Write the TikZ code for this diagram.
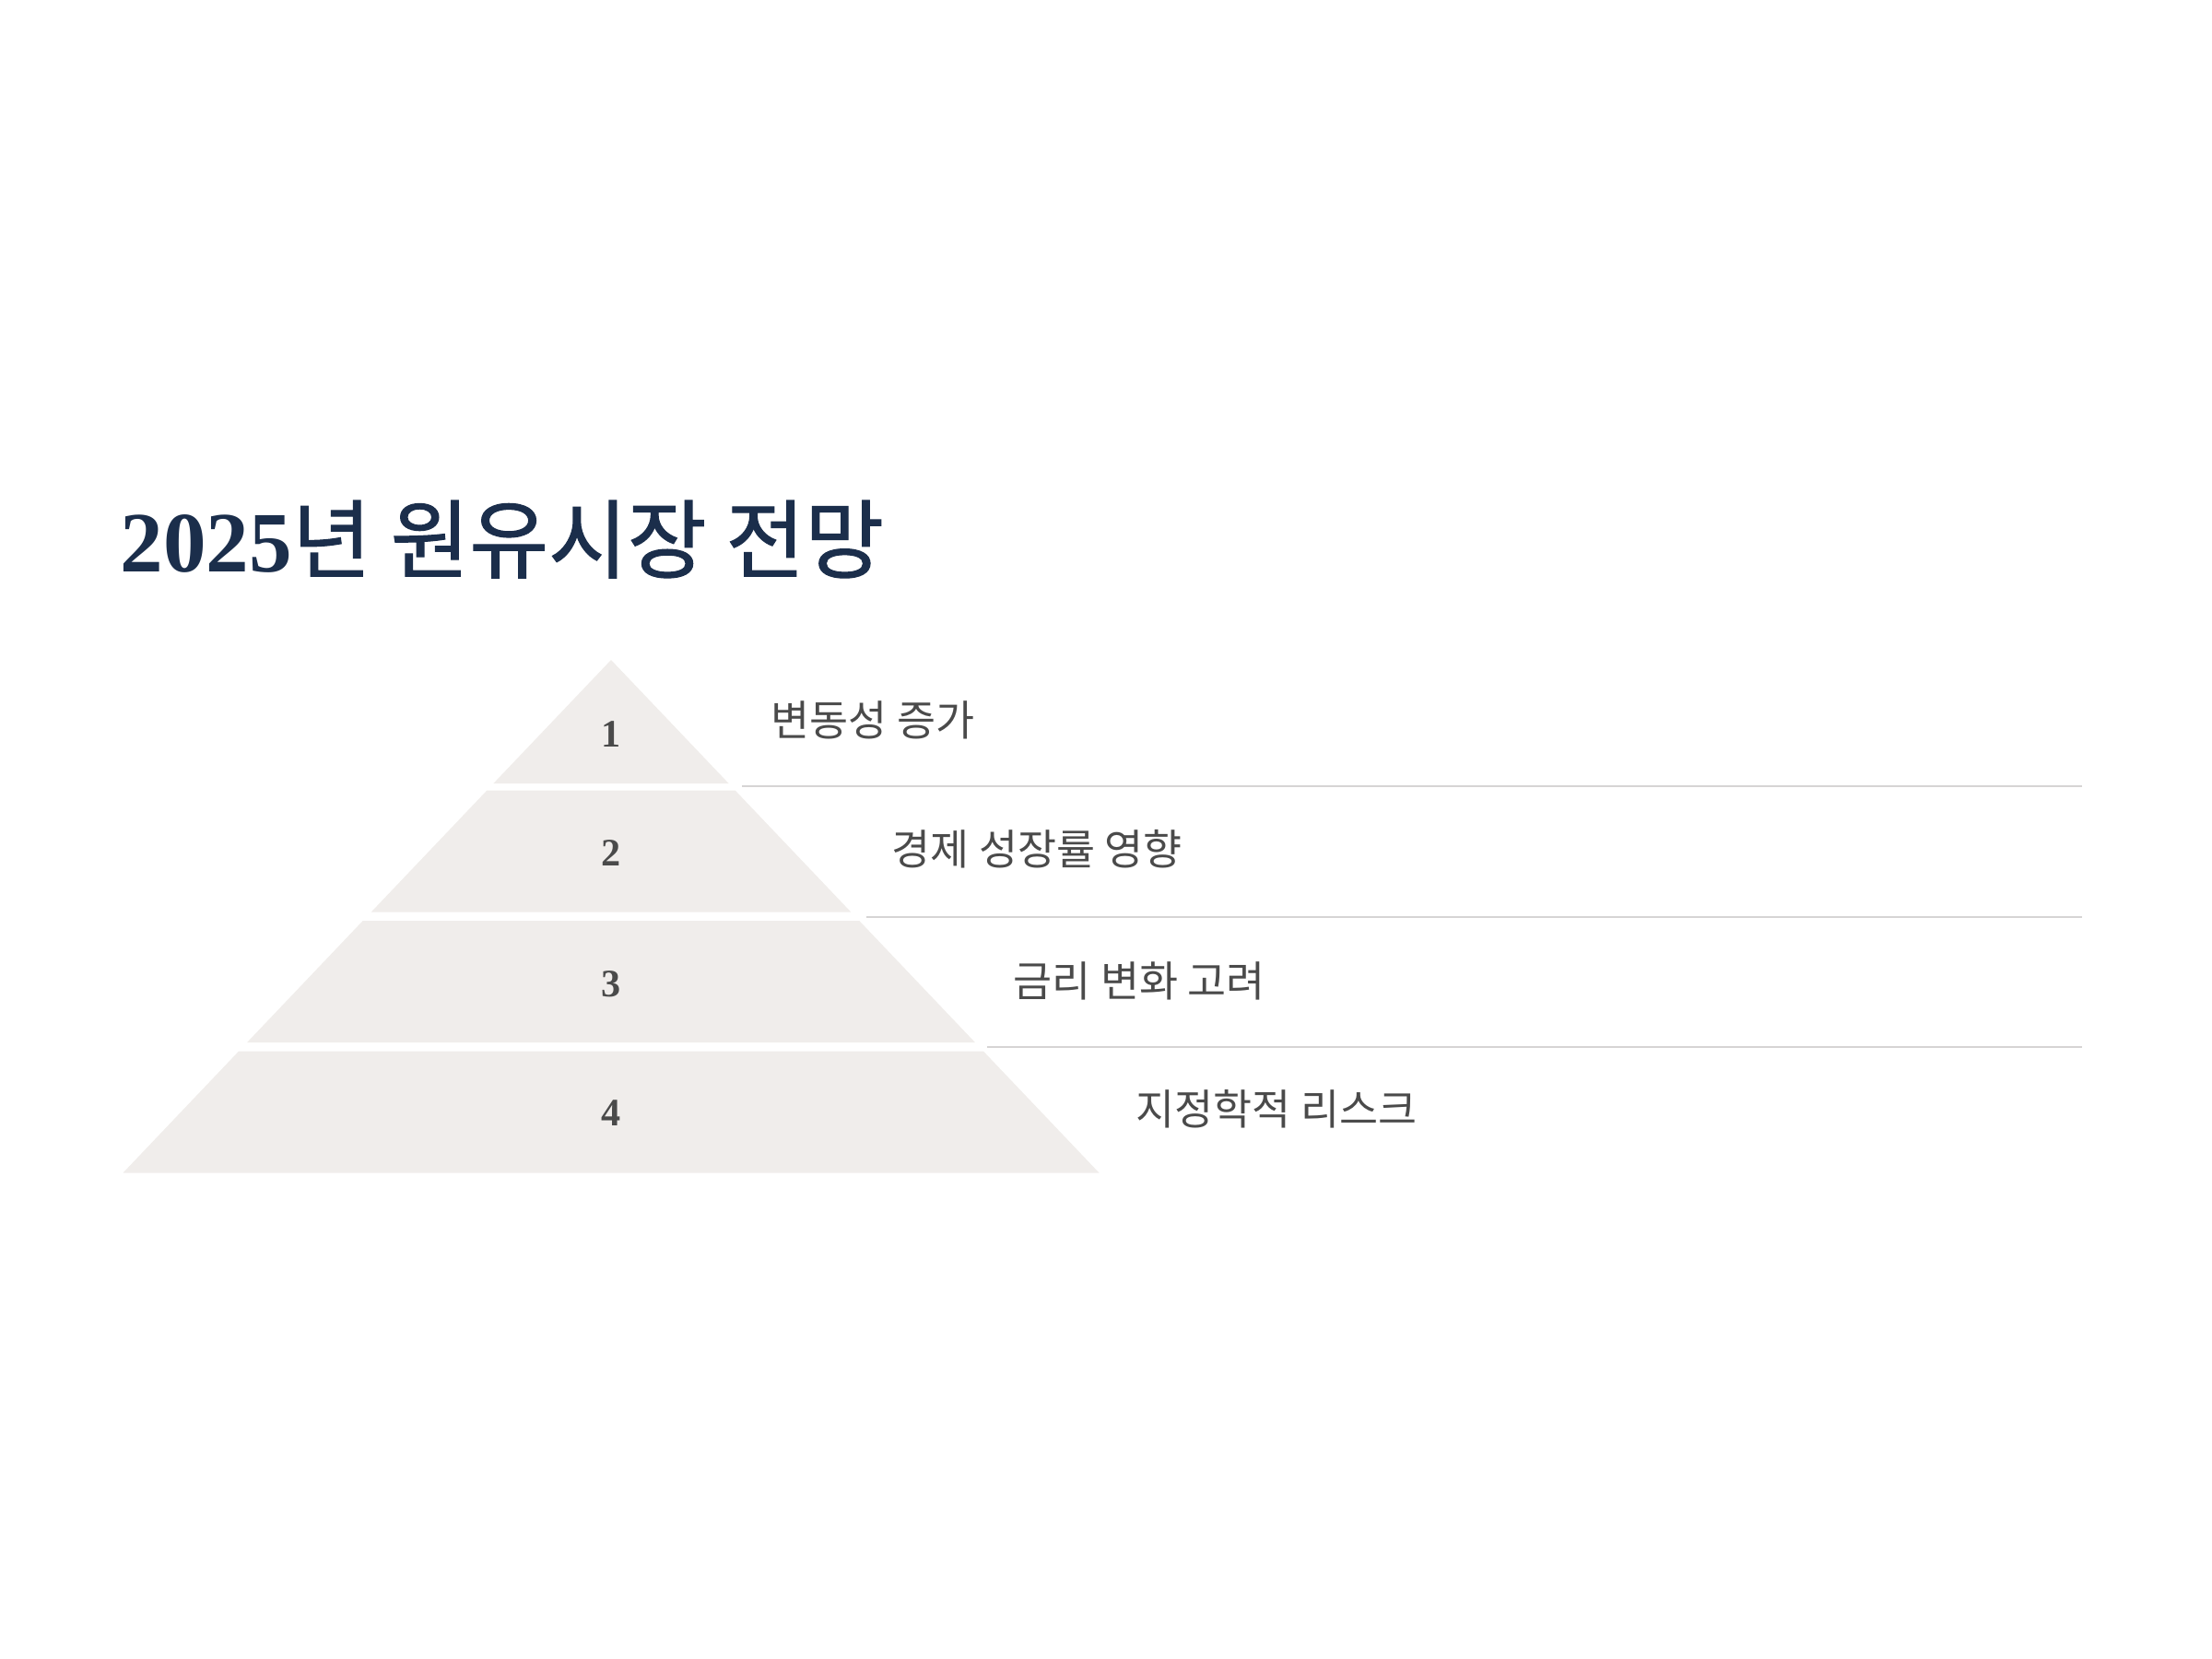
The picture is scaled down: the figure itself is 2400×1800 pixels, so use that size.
\documentclass[tikz,border=0pt]{standalone}
\usepackage{fontspec}
\setmainfont{Liberation Serif}
\newfontfamily\krfont{Noto Sans CJK KR}
\newfontfamily\krtitle{Noto Sans CJK KR}[FakeBold=1.2]
\usetikzlibrary{positioning}

\definecolor{navy}{HTML}{1B2E4B}
\definecolor{stone}{HTML}{F0EDEB}
\definecolor{ink}{HTML}{4A4A4A}
\definecolor{rule}{HTML}{D6D4D4}

\tikzset{
  tier/.style={fill=stone, draw=none},
  tiernum/.style={font=\fontsize{12}{14}\selectfont\bfseries, text=ink, inner sep=0pt},
  tierlabel/.style={font=\krfont\fontsize{13}{15}\selectfont, text=ink, anchor=west, inner sep=0pt},
  sep/.style={draw=rule, line width=0.6pt}
}

\begin{document}
\begin{tikzpicture}[x=0.01cm, y=-0.01cm]
    \useasboundingbox (0,0) rectangle (2400,1800);
    \node[anchor=base west, inner sep=0pt, text=navy, font=\fontsize{26.5}{30}\selectfont] (title) at (130,620) {{\bfseries 2025}{\krtitle 년 원유시장 전망}};

    % pyramid
    \fill[tier] (663,716) -- (790.6,850) -- (535.4,850) -- cycle;
    \fill[tier] (528.4,857.5) -- (797.6,857.5) -- (923.2,989.5) -- (402.8,989.5) -- cycle;
    \fill[tier] (393.7,999) -- (932.3,999) -- (1057.9,1131) -- (268.1,1131) -- cycle;
    \fill[tier] (259.1,1140.5) -- (1066.9,1140.5) -- (1192.5,1272.5) -- (133.5,1272.5) -- cycle;

    \node[tiernum] (n1) at (663,797) {1};
    \node[tiernum] (n2) at (663,926) {2};
    \node[tiernum] (n3) at (663,1068) {3};
    \node[tiernum] (n4) at (663,1208) {4};

    \node[tierlabel] (l1) at (836,781) {변동성 증가};
    \node[tierlabel] (l2) at (967,921) {경제 성장률 영향};
    \node[tierlabel] (l3) at (1099,1064) {금리 변화 고려};
    \node[tierlabel] (l4) at (1232,1203) {지정학적 리스크};

    % rules
    \coordinate (r1s) at (805,853);
    \coordinate (r1e) at (2259,853);
    \coordinate (r2s) at (940,995);
    \coordinate (r2e) at (2259,995);
    \coordinate (r3s) at (1071,1136);
    \coordinate (r3e) at (2259,1136);
    \draw[sep] (r1s) -- (r1e);
    \draw[sep] (r2s) -- (r2e);
    \draw[sep] (r3s) -- (r3e);
\end{tikzpicture}
\end{document}
